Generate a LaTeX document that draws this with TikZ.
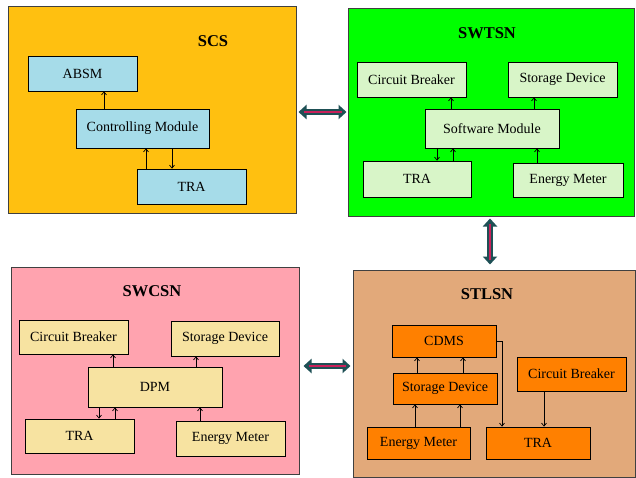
\documentclass[tikz,border=0pt]{standalone}
\usepackage{fontspec}
\setmainfont{Liberation Serif}
\usetikzlibrary{arrows.meta}
\definecolor{scsfill}{HTML}{FFC010}
\definecolor{bluebox}{HTML}{A6DCE9}
\definecolor{greenfill}{HTML}{00FF00}
\definecolor{greenbox}{HTML}{D8F5C8}
\definecolor{pinkfill}{HTML}{FFA3AF}
\definecolor{yellowbox}{HTML}{F7E3A1}
\definecolor{tanfill}{HTML}{E2A97A}
\definecolor{orangebox}{HTML}{FF8000}
\definecolor{panelline}{HTML}{404040}
\definecolor{linkteal}{HTML}{1E5055}
\definecolor{linkmag}{HTML}{C8205A}
\begin{document}
\begin{tikzpicture}[x=1pt,y=-1pt,
  panel/.style={draw=panelline, line width=1pt, inner sep=0pt},
  unit/.style={draw=black, line width=0.8pt, inner sep=0pt, font=\fontsize{14}{16}\selectfont},
  paneltitle/.style={font=\fontsize{16.5}{19}\selectfont\bfseries},
  arr/.style={draw=black, line width=0.7pt, -{Straight Barb[length=3pt,width=5pt]}},
  dblT/.style={draw=linkteal, line width=5.5pt, {Triangle[length=8pt,width=14pt]}-{Triangle[length=8pt,width=14pt]}},
  dblM/.style={draw=linkmag, line width=1.4pt}]
\useasboundingbox[fill=white] (0,0) rectangle (636,478);

% ---------- SCS ----------
\node[panel, fill=scsfill, minimum width=288pt, minimum height=206pt] (scs) at (152,110) {};
\node[paneltitle] (scst) at (213,41) {SCS};
\node[unit, fill=bluebox, minimum width=109pt, minimum height=35pt] (absm) at (82.5,73.5) {ABSM};
\node[unit, fill=bluebox, minimum width=133pt, minimum height=39pt] (cm) at (142.5,128.5) {Controlling Module};
\node[unit, fill=bluebox, minimum width=109pt, minimum height=35pt] (tra1) at (191.5,186.5) {TRA};
\draw[arr] (cm.north -| 104,0) -- (absm.south -| 104,0);
\draw[arr] (tra1.north -| 146,0) -- (cm.south -| 146,0);
\draw[arr] (cm.south -| 172,0) -- (tra1.north -| 172,0);

% ---------- SWTSN ----------
\node[panel, fill=greenfill, minimum width=286.5pt, minimum height=207pt] (swtsn) at (491.25,112.5) {};
\node[paneltitle] (swtsnt) at (487,33) {SWTSN};
\node[unit, fill=greenbox, minimum width=109pt, minimum height=35pt] (cb2) at (411.5,79.5) {Circuit Breaker};
\node[unit, fill=greenbox, minimum width=109pt, minimum height=35pt] (sd2) at (562.5,79.5) {Storage Device};
\node[unit, fill=greenbox, minimum width=134pt, minimum height=39pt] (sm) at (492,128.5) {Software Module};
\node[unit, fill=greenbox, minimum width=108pt, minimum height=36pt] (tra2) at (417,179) {TRA};
\node[unit, fill=greenbox, minimum width=110pt, minimum height=34pt] (em2) at (568,180) {Energy Meter};
\draw[arr] (sm.north -| 451,0) -- (cb2.south -| 451,0);
\draw[arr] (sm.north -| 534,0) -- (sd2.south -| 534,0);
\draw[arr] (sm.south -| 437,0) -- (tra2.north -| 437,0);
\draw[arr] (tra2.north -| 453,0) -- (sm.south -| 453,0);
\draw[arr] (em2.north -| 537,0) -- (sm.south -| 537,0);

% ---------- SWCSN ----------
\node[panel, fill=pinkfill, minimum width=288pt, minimum height=207pt] (swcsn) at (155,370.5) {};
\node[paneltitle] (swcsnt) at (152,291) {SWCSN};
\node[unit, fill=yellowbox, minimum width=109pt, minimum height=34pt] (cb3) at (73.5,337) {Circuit Breaker};
\node[unit, fill=yellowbox, minimum width=108pt, minimum height=35pt] (sd3) at (225,338.5) {Storage Device};
\node[unit, fill=yellowbox, minimum width=134pt, minimum height=40pt] (dpm) at (155,387) {DPM};
\node[unit, fill=yellowbox, minimum width=109pt, minimum height=34pt] (tra3) at (79.5,436) {TRA};
\node[unit, fill=yellowbox, minimum width=109pt, minimum height=35pt] (em3) at (230.5,438.5) {Energy Meter};
\draw[arr] (dpm.north -| 113,0) -- (cb3.south -| 113,0);
\draw[arr] (dpm.north -| 196,0) -- (sd3.south -| 196,0);
\draw[arr] (dpm.south -| 99,0) -- (tra3.north -| 99,0);
\draw[arr] (tra3.north -| 115,0) -- (dpm.south -| 115,0);
\draw[arr] (em3.north -| 200,0) -- (dpm.south -| 200,0);

% ---------- STLSN ----------
\node[panel, fill=tanfill, minimum width=282pt, minimum height=207pt] (stlsn) at (494,373.5) {};
\node[paneltitle] (stlsnt) at (487,294) {STLSN};
\node[unit, fill=orangebox, minimum width=104pt, minimum height=32pt] (cdms) at (444,341) {CDMS};
\node[unit, fill=orangebox, minimum width=104pt, minimum height=31pt] (sd4) at (445,388.5) {Storage Device};
\node[unit, fill=orangebox, minimum width=103pt, minimum height=32pt] (em4) at (418.5,443) {Energy Meter};
\node[unit, fill=orangebox, minimum width=109pt, minimum height=34pt] (cb4) at (571.5,374) {Circuit Breaker};
\node[unit, fill=orangebox, minimum width=104pt, minimum height=32pt] (tra4) at (538,443) {TRA};
\draw[arr] (sd4.north -| 417,0) -- (cdms.south -| 417,0);
\draw[arr] (sd4.north -| 463,0) -- (cdms.south -| 463,0);
\draw[arr] (em4.north -| 415,0) -- (sd4.south -| 415,0);
\draw[arr] (em4.north -| 460,0) -- (sd4.south -| 460,0);
\draw[arr] (cdms.east) -- (cdms.east -| 502,0) -- (tra4.north -| 502,0);
\draw[arr] (cb4.south -| 544,0) -- (tra4.north -| 544,0);

% ---------- links between panels ----------
\draw[dblT, shorten <=2pt, shorten >=1pt] (scs.east |- 0,112) -- (swtsn.west |- 0,112);
\draw[dblM, shorten <=7pt, shorten >=6pt] (scs.east |- 0,112) -- (swtsn.west |- 0,112);
\draw[dblT, shorten <=2pt, shorten >=5pt] (swtsn.south -| 490,0) -- (stlsn.north -| 490,0);
\draw[dblM, shorten <=7pt, shorten >=10pt] (swtsn.south -| 490,0) -- (stlsn.north -| 490,0);
\draw[dblT, shorten <=4pt, shorten >=2pt] (swcsn.east |- 0,366) -- (stlsn.west |- 0,366);
\draw[dblM, shorten <=9pt, shorten >=7pt] (swcsn.east |- 0,366) -- (stlsn.west |- 0,366);
\end{tikzpicture}
\end{document}
